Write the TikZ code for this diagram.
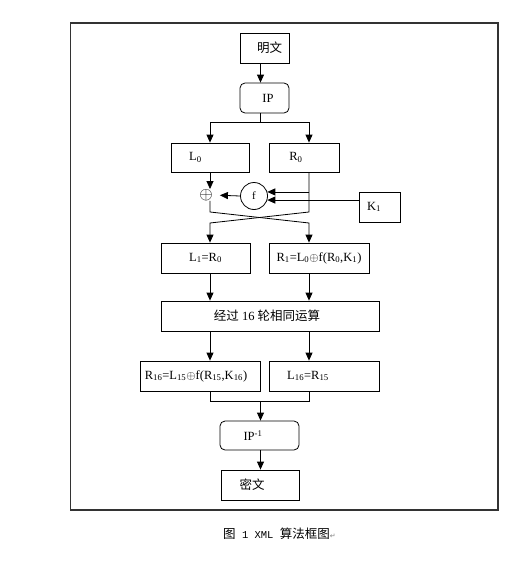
\documentclass[tikz,border=0pt]{standalone}
\usepackage{fontspec}
\setmainfont{Liberation Serif}
\newfontfamily\cjk{Noto Sans CJK SC}
\newfontfamily\symf{DejaVu Sans}
\newfontfamily\monof{Liberation Mono}
\usetikzlibrary{arrows.meta}
\newcommand{\pad}[1]{\hspace*{#1pt}}
\newcommand{\sbs}[1]{\textsubscript{#1}}
\begin{document}
\begin{tikzpicture}[x=1pt,y=-1pt,
  box/.style={draw, line width=0.8pt, minimum height=30pt, inner sep=0pt,
    font=\fontsize{12.5}{14}\selectfont},
  rbox/.style={box, rounded corners=5pt},
  arr/.style={-{Triangle[length=8pt,width=7pt]}, line width=0.8pt},
  ln/.style={line width=0.8pt}]
\useasboundingbox (0,0) rectangle (504,562);
\draw[line width=1.4pt, black!80] (70.5,23) rectangle (498,510);
% columns
\coordinate (cl) at (210,0);
\coordinate (cr) at (309,0);
\coordinate (cm) at (260.5,0);
% nodes
\node[box, minimum width=49pt] (mw) at (264.5,48) {\pad{10}{\cjk 明文}};
\node[rbox, minimum width=49pt] (ip) at (264.5,98) {\pad{7}IP};
\node[box, minimum width=78pt, minimum height=29pt] (L0) at (210,157.5) {L\sbs{0}\pad{29}};
\node[box, minimum width=70pt, minimum height=29pt] (R0) at (304,157.5) {R\sbs{0}\pad{16}};
\node[font=\fontsize{16}{16}\selectfont, inner sep=0pt] (xo) at (206,195) {$\oplus$};
\node[draw, circle, line width=0.8pt, minimum size=27pt, inner sep=0pt,
  font=\fontsize{11}{12}\selectfont] (f) at (254,196) {f};
\node[box, minimum width=41pt] (K1) at (379.5,207) {K\sbs{1}\pad{11}};
\node[box, minimum width=89pt] (L1) at (205.5,258) {L\sbs{1}=R\sbs{0}};
\node[box, minimum width=100pt] (R1) at (319,258) {R\sbs{1}=L\sbs{0}$\oplus$f(R\sbs{0},K\sbs{1})};
\node[box, minimum width=218pt] (big) at (270,316) {{\cjk 经过} 16 {\cjk 轮相同运算}\pad{6}};
\node[box, minimum width=120pt] (R16) at (200,376) {R\sbs{16}=L\sbs{15}$\oplus$f(R\sbs{15},K\sbs{16})\pad{8}};
\node[box, minimum width=110pt] (L16) at (324,376) {L\sbs{16}=R\sbs{15}\pad{32}};
\node[rbox, minimum width=79pt, minimum height=29pt] (ip1) at (259.5,435.5) {IP\textsuperscript{-1}\pad{13}};
\node[box, minimum width=78pt] (mw2) at (260,485) {{\cjk 密文}\pad{16}};
% connectors
\coordinate (sp) at (260.5,122);
\draw[arr] (cm |- mw.south) -- (cm |- ip.north);
\draw[ln] (cm |- ip.south) -- (sp);
\draw[ln] (cl |- sp) -- (cr |- sp);
\draw[arr] (cl |- sp) -- (cl |- L0.north);
\draw[arr] (cr |- sp) -- (cr |- R0.north);
\draw[arr] (cl |- L0.south) -- (cl |- xo.north);
\draw[arr, shorten >=7pt] (f.west) -- (xo.east);
\draw[arr] (cr |- f.17) -- (f.17);
\draw[arr] (K1.west |- f.-17) -- (f.-17);
\coordinate (xl1) at (210,212);
\coordinate (xr1) at (309,212);
\coordinate (xl2) at (210,223);
\coordinate (xr2) at (309,223);
\draw[arr] (cl |- xo.south) -- (xl1) -- (xr2) -- (cr |- R1.north);
\draw[arr] (cr |- R0.south) -- (xr1) -- (xl2) -- (cl |- L1.north);
\draw[arr] (cl |- L1.south) -- (cl |- big.north);
\draw[arr] (cr |- R1.south) -- (cr |- big.north);
\draw[arr] (cl |- big.south) -- (cl |- R16.north);
\draw[arr] (cr |- big.south) -- (cr |- L16.north);
\coordinate (mg) at (260.5,401);
\draw[ln] (cl |- R16.south) -- (cl |- mg) -- (cr |- mg) -- (cr |- L16.south);
\draw[arr] (mg) -- (cm |- ip1.north);
\draw[arr] (cm |- ip1.south) -- (cm |- mw2.north);
% caption
\node[anchor=west, inner sep=0pt, font=\fontsize{12.5}{14}\selectfont] (cap) at (223,534)
  {{\cjk 图}{\monof\fontsize{10.5}{12}\selectfont\ 1 XML\ }{\cjk 算法框图}{\symf\fontsize{7}{8}\selectfont\color{black!50}↵}};
\end{tikzpicture}
\end{document}
